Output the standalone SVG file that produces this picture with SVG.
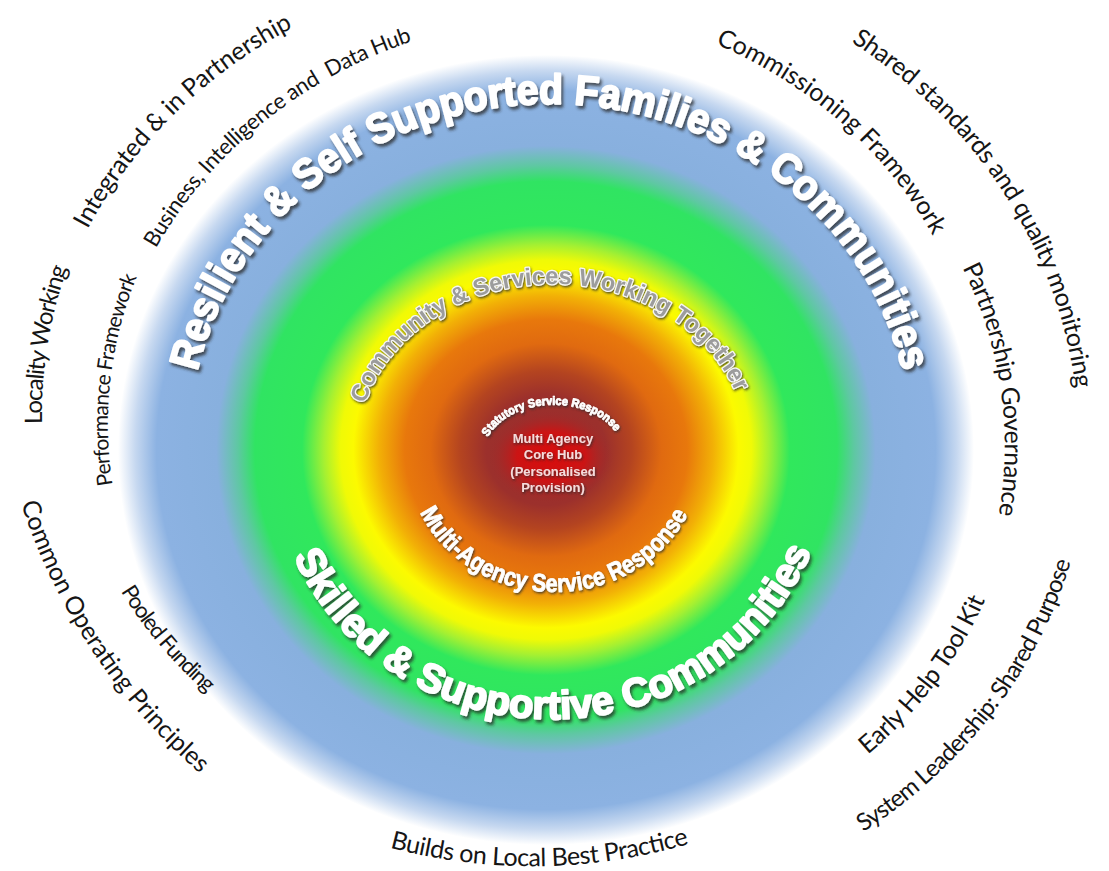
<svg xmlns="http://www.w3.org/2000/svg" width="1109" height="871" viewBox="0 0 1109 871">
<defs>
<radialGradient id="rings" cx="0.5" cy="0.5" r="0.5">
<stop offset="0" stop-color="#9a2c2c"/>
<stop offset="0.14" stop-color="#9c302c"/>
<stop offset="0.2" stop-color="#b44420"/>
<stop offset="0.27" stop-color="#e06a10"/>
<stop offset="0.33" stop-color="#e8780c"/>
<stop offset="0.39" stop-color="#f2b006"/>
<stop offset="0.45" stop-color="#fcfa00"/>
<stop offset="0.48" stop-color="#f0fa06"/>
<stop offset="0.52" stop-color="#a4f032"/>
<stop offset="0.57" stop-color="#30e85c"/>
<stop offset="0.68" stop-color="#30e462"/>
<stop offset="0.72" stop-color="#5ec8a2"/>
<stop offset="0.77" stop-color="#88b0de"/>
<stop offset="0.91" stop-color="#8cb2e2"/>
<stop offset="0.96" stop-color="#c6d8f0"/>
<stop offset="1" stop-color="#ffffff"/>
</radialGradient>
<radialGradient id="core" cx="0.5" cy="0.5" r="0.5">
<stop offset="0" stop-color="#d80c0c"/>
<stop offset="0.55" stop-color="#cc1414"/>
<stop offset="1" stop-color="#9c2c2c" stop-opacity="0"/>
</radialGradient>
<filter id="sh" x="-10%" y="-10%" width="125%" height="125%">
<feDropShadow dx="2" dy="3" stdDeviation="1.6" flood-color="#2a2a2a" flood-opacity="0.75"/>
</filter>
<filter id="shs" x="-10%" y="-10%" width="125%" height="125%">
<feDropShadow dx="1" dy="1.5" stdDeviation="1" flood-color="#2a2a2a" flood-opacity="0.8"/>
</filter>
<path id="p1" d="M86,232 A518,480 0 0 1 296,26"/>
<path id="p2" d="M154,252 A470,435 0 0 1 416,40"/>
<path id="p3" d="M42,426 A515,478 0 0 1 68,266"/>
<path id="p4" d="M113,488 A450,420 0 0 1 138,274"/>
<path id="p5" d="M20,500 A600,600 0 0 0 203,776"/>
<path id="p6" d="M120,590 A440,440 0 0 0 208,694"/>
<path id="p7" d="M387,847 A560,560 0 0 0 692,843"/>
<path id="p8" d="M848,40 A530,492 0 0 1 1076,392"/>
<path id="p9" d="M713,43 A460,425 0 0 1 934,238"/>
<path id="p10" d="M961,265 A458,424 0 0 1 998,518"/>
<path id="p11" d="M866,756 A462,428 0 0 0 986,598"/>
<path id="p12" d="M860,834 A528,490 0 0 0 1072,558"/>
<path id="p13" d="M195,382 A361,340 0 0 1 905,382"/>
<path id="p14" d="M363,410 A195,165 0 0 1 738,398"/>
<path id="p15" d="M484,448 A70,50 0 0 1 621,442"/>
<path id="p16" d="M418,508 A148,137 0 0 0 690,510"/>
<path id="p17" d="M291,550 A280,267 0 0 0 814,545"/>
</defs>
<style>
.out{font-family:Lato,"Noto Sans","Liberation Sans",sans-serif;fill:#151515;text-anchor:middle}
.big{font-family:"Liberation Sans",Arial,sans-serif;font-weight:bold;fill:#ffffff;stroke:#ffffff;stroke-width:2;stroke-linejoin:round;text-anchor:middle;filter:url(#sh)}
.mid{font-family:"Liberation Sans",Arial,sans-serif;font-weight:bold;fill:#ffffff;stroke:#ffffff;stroke-width:0.8;stroke-linejoin:round;text-anchor:middle;filter:url(#shs)}
.grey{font-family:"Liberation Sans",Arial,sans-serif;font-weight:bold;fill:#9c9c9c;stroke:#f6f6f6;stroke-width:2.6;stroke-linejoin:round;paint-order:stroke;text-anchor:middle;filter:url(#shs)}
.hub{font-family:"Liberation Sans",Arial,sans-serif;font-weight:bold;font-size:13px;fill:#f4dcdc;text-anchor:middle;filter:url(#shs)}
</style>
<rect width="1109" height="871" fill="#ffffff"/>
<g id="rings-bg">
<ellipse cx="546" cy="450" rx="428" ry="395" fill="url(#rings)"/>
<ellipse cx="551" cy="457" rx="62" ry="46" fill="url(#core)"/>
</g>
<g id="resilient"><text class="big" font-size="42"><textPath href="#p13" startOffset="50%" textLength="955" lengthAdjust="spacingAndGlyphs">Resilient &amp; Self Supported Families &amp; Communities</textPath></text></g>
<g id="community"><text class="grey" font-size="24"><textPath href="#p14" startOffset="50%" textLength="462" lengthAdjust="spacingAndGlyphs">Community &amp; Services Working Together</textPath></text></g>
<g id="statutory"><text class="mid" font-size="12"><textPath href="#p15" startOffset="50%" textLength="146" lengthAdjust="spacingAndGlyphs">Statutory Service Response</textPath></text></g>
<g id="core-hub"><text class="hub"><tspan x="553" y="443">Multi Agency</tspan><tspan x="553" y="459">Core Hub</tspan><tspan x="553" y="476">(Personalised</tspan><tspan x="553" y="492">Provision)</tspan></text></g>
<g id="multi-agency"><text class="mid" font-size="25"><textPath href="#p16" startOffset="50%" textLength="326" lengthAdjust="spacingAndGlyphs">Multi-Agency Service Response</textPath></text></g>
<g id="skilled"><text class="big" font-size="40"><textPath href="#p17" startOffset="50%" textLength="650" lengthAdjust="spacingAndGlyphs">Skilled &amp; Supportive Communities</textPath></text></g>
<g id="outer-labels">
<g id="integrated"><text class="out" font-size="25"><textPath href="#p1" startOffset="50%" textLength="292">Integrated &amp; in Partnership</textPath></text></g>
<g id="business"><text class="out" font-size="22" xml:space="preserve" style="white-space:pre"><textPath href="#p2" startOffset="50%" textLength="337">Business, Intelligence and  Data Hub</textPath></text></g>
<g id="locality"><text class="out" font-size="24"><textPath href="#p3" startOffset="50%" textLength="159">Locality Working</textPath></text></g>
<g id="performance"><text class="out" font-size="21"><textPath href="#p4" startOffset="50%" textLength="212">Performance Framework</textPath></text></g>
<g id="common"><text class="out" font-size="25"><textPath href="#p5" startOffset="50%" textLength="328">Common Operating Principles</textPath></text></g>
<g id="pooled"><text class="out" font-size="22"><textPath href="#p6" startOffset="50%" textLength="134">Pooled Funding</textPath></text></g>
<g id="builds"><text class="out" font-size="25"><textPath href="#p7" startOffset="50%" textLength="303">Builds on Local Best Practice</textPath></text></g>
<g id="shared"><text class="out" font-size="25"><textPath href="#p8" startOffset="50%" textLength="426">Shared standards and quality monitoring</textPath></text></g>
<g id="commissioning"><text class="out" font-size="25"><textPath href="#p9" startOffset="50%" textLength="295">Commissioning Framework</textPath></text></g>
<g id="partnership"><text class="out" font-size="25"><textPath href="#p10" startOffset="50%" textLength="254">Partnership Governance</textPath></text></g>
<g id="early-help"><text class="out" font-size="25"><textPath href="#p11" startOffset="50%" textLength="196">Early Help Tool Kit</textPath></text></g>
<g id="system"><text class="out" font-size="24"><textPath href="#p12" startOffset="50%" textLength="348">System Leadership: Shared Purpose</textPath></text></g>
</g>
</svg>
